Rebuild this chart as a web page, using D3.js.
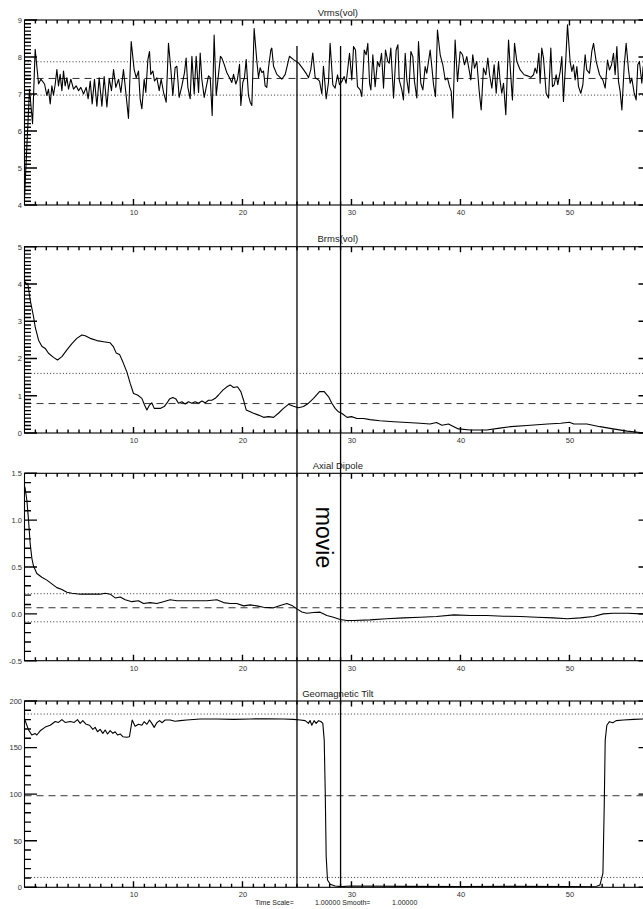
<!DOCTYPE html>
<html>
<head>
<meta charset="utf-8">
<script src="https://cdn.jsdelivr.net/npm/d3@7"></script>
<style>
body { margin: 0; background: #fff; }
svg { display: block; font-family: "Liberation Sans", Arial, sans-serif; }
</style>
</head>
<body>
<svg id="chart" width="643" height="909"></svg>
<script>
// panel titles and axis labels
let titles = ['Vrms(vol)', 'Brms(vol)', 'Axial Dipole', 'Geomagnetic Tilt']
let xLabels = [10, 20, 30, 40, 50]
let yLabels = [[4, 5, 6, 7, 8, 9], [0, 1, 2, 3, 4, 5], [-0.5, 0.0, 0.5, 1.0, 1.5], [0, 50, 100, 150, 200]]
let yDomains = [[4, 9], [0, 5], [-0.5, 1.5], [0, 200]]
let yMinorStep = [0.1, 0.1, 0.1, 10]

// time average (dashed) and +/- one sigma (dotted)
let means = [7.42, 0.79, 0.065, 98.3]
let sigmas = [0.45, 0.81, 0.15, 87.7]

// movie window
let movieTimes = [25, 29]

// series: [time, value]
let vrms = [[0,4.2],[0.46,7.13],[0.74,6.2],[0.98,8.21],[1.29,7.27],[1.5,7.4],[1.84,7.27],[2.05,6.96],[2.2,7.13],[2.36,6.73],
[2.51,7.22],[2.66,6.97],[2.82,7.27],[2.97,7.66],[3.12,7.22],[3.27,7.53],[3.43,7.09],[3.58,7.62],[3.73,7.22],[3.89,7.44],
[4.04,7.13],[4.25,7.4],[4.5,7.13],[4.74,7.22],[4.96,7.09],[5.17,7.18],[5.42,7.0],[5.66,7.18],[5.84,6.87],[6.03,7.35],
[6.21,6.73],[6.42,7.4],[6.64,6.67],[6.85,7.44],[7.1,6.67],[7.31,7.47],[7.56,6.65],[7.77,7.42],[7.98,7.09],[8.17,7.66],
[8.38,7.18],[8.63,7.4],[8.84,7.04],[9.08,7.66],[9.54,6.34],[9.79,8.42],[10.06,7.66],[10.25,7.44],[10.46,7.62],[10.61,6.87],
[10.77,6.6],[10.98,7.4],[11.13,7.04],[11.32,7.93],[11.47,8.15],[11.59,7.53],[11.78,7.62],[11.93,7.35],[12.14,7.44],[12.36,7.09],
[12.54,7.4],[12.76,7.04],[13.0,6.78],[13.21,8.37],[13.43,7.66],[13.61,6.96],[13.82,7.71],[13.98,7.75],[14.19,6.91],[14.44,7.22],
[14.68,7.58],[14.83,7.97],[14.99,7.18],[15.2,6.87],[15.36,8.02],[15.57,7.0],[15.75,8.02],[15.97,7.04],[16.12,8.11],[16.27,7.4],
[16.49,6.91],[16.67,7.18],[16.88,7.49],[17.04,7.44],[17.22,6.42],[17.4,8.59],[17.59,6.96],[17.8,7.53],[17.98,8.02],[18.11,7.97],
[18.32,7.8],[18.56,7.58],[18.81,7.44],[19.02,7.31],[19.18,7.53],[19.39,7.27],[19.54,7.4],[19.73,7.8],[19.85,6.69],[20.03,7.31],
[20.18,7.44],[20.34,7.93],[20.55,6.96],[20.71,6.78],[20.86,6.69],[21.07,8.77],[21.32,7.88],[21.47,7.44],[21.62,7.71],[21.78,7.58],
[21.93,7.62],[22.08,7.22],[22.23,7.18],[22.39,7.71],[22.6,8.19],[22.69,8.24],[22.85,7.75],[23.15,7.53],[23.61,7.4],[23.92,7.53],
[24.31,8.02],[24.68,7.93],[25.14,7.84],[25.6,7.66],[25.9,7.53],[26.06,7.44],[26.27,7.66],[26.45,8.11],[26.67,7.44],[26.88,7.4],
[27.07,7.35],[27.28,7.0],[27.43,7.75],[27.68,6.87],[27.89,7.31],[28.04,8.37],[28.29,7.25],[28.5,7.16],[28.72,7.52],[28.9,7.25],
[29.12,7.34],[29.33,7.47],[29.51,7.29],[29.82,8.1],[30.03,7.38],[30.19,8.28],[30.37,8.19],[30.55,7.2],[30.8,7.11],[30.95,6.93],
[31.17,8.19],[31.35,8.06],[31.5,8.37],[31.66,7.29],[31.78,7.11],[31.96,8.06],[32.17,7.2],[32.39,7.88],[32.57,7.74],[32.76,8.1],
[32.94,7.16],[33.12,8.19],[33.33,7.88],[33.46,7.83],[33.61,8.24],[33.86,6.89],[34.1,8.19],[34.26,8.33],[34.38,7.38],[34.62,7.11],
[34.77,6.84],[34.93,8.1],[35.08,7.38],[35.26,7.02],[35.45,8.15],[35.63,8.01],[35.78,7.34],[36.0,6.89],[36.15,8.42],[36.36,7.29],
[36.55,7.11],[36.76,7.74],[36.91,7.56],[37.07,7.88],[37.22,8.19],[37.37,7.74],[37.53,7.25],[37.71,6.93],[37.89,8.73],[38.14,8.06],
[38.38,7.79],[38.6,7.38],[38.81,7.43],[39.0,7.2],[39.15,7.07],[39.3,6.35],[39.51,8.46],[39.73,7.34],[39.97,8.15],[40.19,8.06],
[40.37,7.79],[40.58,8.01],[40.74,7.74],[40.95,7.38],[41.13,8.06],[41.29,7.7],[41.5,7.88],[41.72,7.07],[41.9,6.57],[42.11,7.7],
[42.33,7.52],[42.51,7.97],[42.67,7.52],[42.88,7.16],[43.09,7.79],[43.28,7.02],[43.49,7.88],[43.64,7.34],[43.79,7.02],[43.95,7.29],
[44.16,6.44],[44.41,8.46],[44.62,7.47],[44.77,6.84],[44.96,8.37],[45.17,7.88],[45.48,7.65],[45.84,7.52],[46.15,7.49],[46.46,7.45],
[46.7,7.52],[46.85,7.7],[47.01,7.56],[47.19,8.1],[47.31,7.29],[47.46,8.24],[47.62,7.97],[47.86,7.02],[48.08,6.89],[48.29,8.24],
[48.44,7.2],[48.6,7.25],[48.78,7.52],[48.93,7.25],[49.15,7.61],[49.3,8.01],[49.45,6.8],[49.67,7.97],[49.82,8.87],[50.06,7.88],
[50.22,7.61],[50.37,7.79],[50.52,7.38],[50.68,7.74],[50.83,7.2],[51.04,7.02],[51.23,7.25],[51.44,8.06],[51.59,7.65],[51.84,7.56],
[52.05,8.15],[52.21,8.37],[52.45,7.88],[52.76,7.52],[53.06,7.38],[53.28,7.16],[53.49,7.92],[53.67,7.65],[53.86,7.79],[54.04,8.1],
[54.19,7.52],[54.35,8.28],[54.5,7.34],[54.65,7.07],[54.81,6.57],[55.02,7.74],[55.2,8.37],[55.42,7.65],[55.57,7.29],[55.72,7.43],
[55.94,7.02],[56.12,6.84],[56.27,7.79],[56.42,7.88],[56.64,7.29],[56.76,7.74],[57.0,7.4]]

let brms = [[0,4.0],[0.1,4.05],[0.2,3.98],[0.3,4.02],[0.52,3.57],[0.83,3.12],[0.98,2.85],[1.29,2.49],[1.59,2.33],[1.9,2.27],
[2.2,2.14],[2.66,2.03],[3.03,1.96],[3.43,2.05],[3.89,2.23],[4.35,2.4],[4.8,2.54],[5.26,2.63],[5.57,2.61],[6.03,2.54],
[6.64,2.48],[7.25,2.45],[7.86,2.42],[8.17,2.31],[8.41,2.15],[8.72,2.11],[9.02,1.91],[9.39,1.64],[9.7,1.33],[10.0,1.06],
[10.37,1.02],[10.77,0.93],[11.01,0.75],[11.23,0.62],[11.47,0.75],[11.68,0.81],[11.9,0.66],[12.14,0.66],[12.45,0.66],[12.82,0.71],
[13.06,0.8],[13.3,0.91],[13.61,0.95],[13.9,0.91],[14.13,0.8],[14.44,0.84],[14.74,0.78],[15.05,0.84],[15.35,0.8],[15.66,0.84],
[15.97,0.8],[16.27,0.86],[16.58,0.81],[16.88,0.88],[17.19,0.88],[17.5,0.93],[17.8,1.02],[18.2,1.15],[18.57,1.24],[18.87,1.29],
[19.18,1.22],[19.54,1.24],[19.85,1.11],[20.1,0.88],[20.34,0.62],[20.71,0.57],[21.01,0.53],[21.47,0.48],[21.93,0.42],[22.39,0.44],
[22.85,0.42],[23.3,0.53],[23.76,0.66],[24.22,0.77],[24.68,0.72],[25.14,0.68],[25.6,0.71],[26.06,0.8],[26.52,0.93],[27.07,1.11],
[27.5,1.11],[27.9,0.97],[28.2,0.8],[28.5,0.66],[28.8,0.57],[29.1,0.53],[29.6,0.42],[30.0,0.44],[30.5,0.39],[31.1,0.39],
[31.7,0.36],[32.6,0.33],[33.9,0.3],[35.1,0.28],[36.3,0.26],[37.2,0.24],[37.8,0.28],[38.3,0.21],[38.9,0.24],[39.4,0.17],
[39.8,0.11],[40.9,0.08],[42.4,0.08],[43.6,0.13],[44.6,0.17],[46.1,0.2],[48.0,0.24],[49.2,0.26],[50.0,0.29],[50.4,0.24],
[51.6,0.24],[52.8,0.17],[54.0,0.11],[55.3,0.05],[56.5,0.01],[57.5,0.0]]

let dipole = [[0,1.36],[0.06,1.34],[0.22,1.21],[0.37,1.0],[0.52,0.75],[0.68,0.59],[0.83,0.51],[1.13,0.43],[1.59,0.39],[2.05,0.36],
[2.51,0.32],[2.97,0.28],[3.43,0.26],[3.89,0.23],[4.35,0.22],[5.11,0.21],[6.03,0.21],[6.95,0.21],[7.41,0.22],[7.86,0.21],
[8.32,0.17],[8.78,0.18],[9.24,0.15],[9.85,0.13],[10.46,0.14],[10.92,0.11],[11.53,0.12],[12.14,0.11],[12.75,0.13],[13.36,0.15],
[13.98,0.14],[14.89,0.14],[15.81,0.14],[16.73,0.14],[17.65,0.15],[18.26,0.12],[18.87,0.11],[19.48,0.11],[20.1,0.085],[20.71,0.096],
[21.32,0.085],[21.93,0.07],[22.85,0.064],[23.46,0.09],[24.07,0.11],[24.53,0.09],[24.99,0.053],[25.45,0.02],[25.9,0.007],[26.52,0.014],
[27.13,0.018],[27.74,-0.018],[28.35,-0.036],[28.96,-0.06],[29.57,-0.071],[30.19,-0.071],[31.7,-0.064],[33.2,-0.053],[34.8,-0.043],[36.3,-0.036],
[37.8,-0.028],[39.4,-0.011],[40.9,-0.018],[42.4,-0.018],[43.95,-0.025],[45.5,-0.028],[47.0,-0.036],[48.5,-0.043],[49.8,-0.053],[51.0,-0.043],
[52.2,-0.028],[53.1,0.0],[54.0,0.007],[55.3,0.007],[56.6,0.0],[57.5,0.0]]

let tilt = [[0,181],[0.37,169],[0.67,163.5],[0.98,165],[1.13,163.5],[1.44,168],[1.9,172],[2.36,174],[2.82,178],[3.12,177],
[3.43,180],[3.73,177],[4.19,178],[4.56,177],[4.86,180],[5.11,176],[5.35,179],[5.66,175],[5.97,174],[6.27,169.6],
[6.48,171.7],[6.7,167],[6.94,169.6],[7.19,165.3],[7.4,168.9],[7.62,164.6],[7.86,168.2],[8.11,165.3],[8.32,167],[8.53,163.5],
[8.78,164.6],[9.02,161.7],[9.39,161],[9.63,161.7],[9.88,179.6],[10.15,173],[10.46,175],[10.77,174],[10.98,177.8],[11.23,175],
[11.47,179.6],[11.68,176],[11.9,171.7],[12.14,176.7],[12.39,178.9],[12.63,176.7],[12.9,179.6],[13.36,179.6],[13.82,178.2],[14.28,178.9],
[14.89,179.6],[16.12,180.7],[17.65,180.7],[19.2,180.3],[20.7,180.7],[22.2,181],[23.76,180.7],[24.68,180.3],[25.3,179.6],[25.75,178.9],
[26.06,176],[26.2,179],[26.36,174],[26.57,178.9],[26.76,176],[26.98,178.9],[27.19,178],[27.37,176],[27.5,158],[27.59,104],
[27.68,33],[27.8,7.8],[28.05,3.2],[28.5,1.4],[29.1,0.7],[29.9,1.4],[35,1],[40,0.8],[45,1],[50,0.8],
[52.5,1.2],[52.8,2.5],[53.07,15],[53.19,86.6],[53.28,158],[53.43,174],[53.67,177.8],[53.98,176.7],[54.28,178.9],[54.96,179.6],
[55.88,180.3],[56.73,180.7],[57.5,180.8]]

let series = [vrms, brms, dipole, tilt]

let svg = d3.select('#chart')
let panelTop = [20, 246.7, 473.3, 701]
let panelBottom = [205, 433, 660.7, 887.3]
let left = 24.5
let right = 651.2

let x = d3.scaleLinear().domain([0, 57.5]).range([left, right])
let xMinor = d3.range(1, 58).filter(d => d % 10 !== 0)

let fmt = [d => d, d => d, d => d.toFixed(1), d => d]

// inward tick marks drawn from a scale, as one path per set
let vTicks = (g, values, y0, len) => {
    g.append('path')
        .attr('d', values.map(d => `M${x(d)},${y0}V${y0 + len}`).join(''))
        .attr('stroke', '#000').attr('stroke-width', 1.4).attr('fill', 'none')
}
let hTicks = (g, y, values, x0, len) => {
    g.append('path')
        .attr('d', values.map(d => `M${x0},${y(d)}H${x0 + len}`).join(''))
        .attr('stroke', '#000').attr('stroke-width', 1.4).attr('fill', 'none')
}

series.forEach((data, i) => {
    let top = panelTop[i]
    let bottom = panelBottom[i]
    let y = d3.scaleLinear().domain(yDomains[i]).range([bottom, top])
    let yMinor = d3.range(yDomains[i][0], yDomains[i][1] + 1e-9, yMinorStep[i])
        .filter(v => !yLabels[i].some(m => Math.abs(m - v) < 1e-6))

    let clipId = 'clip' + i
    svg.append('clipPath').attr('id', clipId)
        .append('rect').attr('x', left).attr('y', top)
        .attr('width', right - left).attr('height', bottom - top)

    let g = svg.append('g')

    // reference lines: mean dashed, +/- sigma dotted
    let refs = g.append('g').attr('clip-path', `url(#${clipId})`)
    refs.append('line')
        .attr('x1', left).attr('x2', right)
        .attr('y1', y(means[i])).attr('y2', y(means[i]))
        .attr('stroke', '#333').attr('stroke-width', 1).attr('stroke-dasharray', '7,5')
    ;[means[i] + sigmas[i], means[i] - sigmas[i]].forEach(v => {
        refs.append('line')
            .attr('x1', left).attr('x2', right)
            .attr('y1', y(v)).attr('y2', y(v))
            .attr('stroke', '#333').attr('stroke-width', 1).attr('stroke-dasharray', '1,2.2')
    })

    // the curve
    g.append('path')
        .datum(data)
        .attr('clip-path', `url(#${clipId})`)
        .attr('d', d3.line().x(d => x(d[0])).y(d => y(d[1])))
        .attr('fill', 'none')
        .attr('stroke', '#000')
        .attr('stroke-width', 1.1)
        .attr('stroke-linejoin', 'round')

    // frame
    g.append('rect')
        .attr('x', left).attr('y', top)
        .attr('width', right - left).attr('height', bottom - top)
        .attr('fill', 'none').attr('stroke', '#000').attr('stroke-width', 1.1)

    // ticks pointing inward on all four sides
    vTicks(g, xMinor, bottom, -3.5)
    vTicks(g, xLabels, bottom, -6)
    vTicks(g, xMinor, top, 3.5)
    vTicks(g, xLabels, top, 5.5)
    hTicks(g, y, yMinor, left, 6.5)
    hTicks(g, y, yLabels[i], left, 12.5)
    hTicks(g, y, yMinor, right, -6.5)
    hTicks(g, y, yLabels[i], right, -12.7)

    // tick labels via d3 axes (tick marks of zero length)
    let xAxis = g.append('g').attr('transform', `translate(0,${bottom})`)
        .call(d3.axisBottom(x).tickValues(xLabels).tickSize(0).tickPadding(4.5))
    let yAxis = g.append('g').attr('transform', `translate(${left},0)`)
        .call(d3.axisLeft(y).tickValues(yLabels[i]).tickSize(0).tickPadding(2.5).tickFormat(fmt[i]))
    ;[xAxis, yAxis].forEach(a => {
        a.select('.domain').remove()
        a.selectAll('line').remove()
        a.selectAll('text').attr('fill', '#333').attr('font-size', 7.5)
            .attr('font-family', '"Liberation Sans", Arial, sans-serif')
    })

    // title
    g.append('text')
        .attr('x', (left + right) / 2).attr('y', top - 4.5)
        .attr('text-anchor', 'middle')
        .attr('font-size', 9.5).attr('fill', '#222')
        .text(titles[i])
})

// movie window markers
movieTimes.forEach(t => {
    svg.append('line')
        .attr('x1', x(t)).attr('x2', x(t))
        .attr('y1', 46).attr('y2', panelBottom[3])
        .attr('stroke', '#000').attr('stroke-width', 1.3)
})

svg.append('text')
    .attr('transform', `translate(315.5,${537.5}) rotate(90)`)
    .attr('text-anchor', 'middle')
    .attr('font-size', 23).attr('fill', '#000')
    .text('movie')

// footer
let footer = svg.append('text').attr('y', 905).attr('font-size', 7).attr('fill', '#222')
footer.append('tspan').attr('x', 255).text('Time  Scale=')
footer.append('tspan').attr('x', 315).text('1.00000 Smooth=')
footer.append('tspan').attr('x', 392).text('1.00000')
</script>
</body>
</html>
